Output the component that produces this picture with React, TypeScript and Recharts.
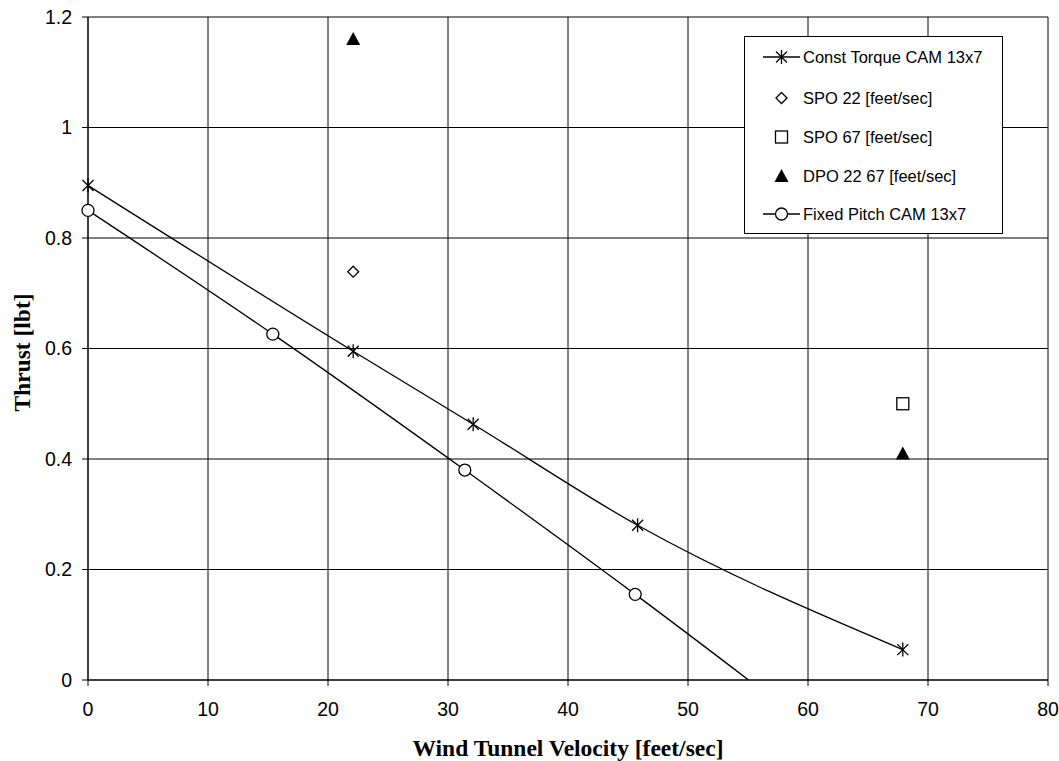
import React from "react";
import {
    ComposedChart,
    Line,
    Scatter,
    XAxis,
    YAxis,
    CartesianGrid,
    Legend,
    Label,
} from "recharts";

// values
const constTorque = [
    { x: 0, y: 0.895 },
    { x: 22.1, y: 0.595 },
    { x: 32.1, y: 0.463 },
    { x: 45.8, y: 0.28 },
    { x: 67.9, y: 0.055 },
];
const fixedPitch = [
    { x: 0, y: 0.85 },
    { x: 15.4, y: 0.626 },
    { x: 31.4, y: 0.38 },
    { x: 45.6, y: 0.155 },
    { x: 67.9, y: -0.215 },
];
const spo22 = [{ x: 22.1, y: 0.739 }];
const spo67 = [{ x: 67.9, y: 0.5 }];
const dpo2267 = [
    { x: 22.1, y: 1.16 },
    { x: 67.9, y: 0.41 },
];
const xTicks = [0, 10, 20, 30, 40, 50, 60, 70, 80];
const yTicks = [0, 0.2, 0.4, 0.6, 0.8, 1, 1.2];

const legendItems = [
    { name: "Const Torque CAM 13x7", kind: "star", line: true },
    { name: "SPO 22 [feet/sec]", kind: "diamond", line: false },
    { name: "SPO 67 [feet/sec]", kind: "square", line: false },
    { name: "DPO 22 67 [feet/sec]", kind: "triangle", line: false },
    { name: "Fixed Pitch CAM 13x7", kind: "circle", line: true },
];

const sans = "'Liberation Sans', Arial, sans-serif";
const serif = "'Liberation Serif', 'Times New Roman', serif";

function Marker({ kind, cx, cy }: { kind: string; cx: number; cy: number }) {
    if (cx == null || cy == null || isNaN(cx) || isNaN(cy)) return null;
    const s = "#000";
    switch (kind) {
        case "star":
            return (
                <g stroke={s} strokeWidth={1.3} fill="none">
                    <line x1={cx - 5.5} y1={cy - 5.5} x2={cx + 5.5} y2={cy + 5.5} />
                    <line x1={cx - 5.5} y1={cy + 5.5} x2={cx + 5.5} y2={cy - 5.5} />
                    <line x1={cx} y1={cy - 7} x2={cx} y2={cy + 7} />
                </g>
            );
        case "circle":
            return <circle cx={cx} cy={cy} r={6} fill="#fff" stroke={s} strokeWidth={1.3} />;
        case "diamond":
            return (
                <polygon
                    points={`${cx},${cy - 5.5} ${cx + 5.5},${cy} ${cx},${cy + 5.5} ${cx - 5.5},${cy}`}
                    fill="#fff"
                    stroke={s}
                    strokeWidth={1.3}
                />
            );
        case "square":
            return <rect x={cx - 6} y={cy - 6} width={12} height={12} fill="#fff" stroke={s} strokeWidth={1.3} />;
        case "triangle":
            return <polygon points={`${cx},${cy - 7} ${cx + 7},${cy + 6} ${cx - 7},${cy + 6}`} fill={s} />;
        default:
            return null;
    }
}

function LegendBox() {
    return (
        <div
            style={{
                width: 257,
                height: 196,
                border: "1px solid #000",
                background: "#fff",
                boxSizing: "content-box",
                position: "relative",
            }}
        >
            {legendItems.map((item, i) => {
                const top = [20, 61, 100, 139, 177][i];
                return (
                    <div key={item.name} style={{ position: "absolute", left: 0, top: top - 12, height: 24, display: "flex", alignItems: "center" }}>
                        <svg width={58} height={24} style={{ display: "block" }}>
                            {item.line && <line x1={18} y1={12} x2={55} y2={12} stroke="#000" strokeWidth={1.3} />}
                            <Marker kind={item.kind} cx={36.5} cy={12} />
                        </svg>
                        <span style={{ fontFamily: sans, fontSize: 16.5, color: "#000", whiteSpace: "nowrap" }}>{item.name}</span>
                    </div>
                );
            })}
        </div>
    );
}

export default function App() {
    return (
        <div style={{ position: "absolute", left: 0, top: 0, background: "#fff" }}>
            <ComposedChart width={1059} height={761} margin={{ top: 17, right: 11, bottom: 0, left: 0 }}>
                <CartesianGrid stroke="#000" strokeWidth={1} horizontalValues={yTicks} verticalValues={xTicks} />
                <XAxis
                    dataKey="x"
                    type="number"
                    domain={[0, 80]}
                    ticks={xTicks}
                    height={81}
                    stroke="#000"
                    tickSize={6}
                    tickMargin={16}
                    tick={{ fill: "#000", fontSize: 19.5, fontFamily: sans }}
                >
                    <Label
                        content={({ viewBox }: any) => (
                            <text
                                x={viewBox.x + viewBox.width / 2}
                                y={viewBox.y + 76}
                                textAnchor="middle"
                                fontFamily={serif}
                                fontWeight="bold"
                                fontSize={23.5}
                                fill="#000"
                            >
                                Wind Tunnel Velocity [feet/sec]
                            </text>
                        )}
                    />
                </XAxis>
                <YAxis
                    dataKey="y"
                    type="number"
                    domain={[0, 1.2]}
                    ticks={yTicks}
                    allowDataOverflow
                    width={88}
                    stroke="#000"
                    tickSize={6}
                    tickMargin={10}
                    tick={{ fill: "#000", fontSize: 19.5, fontFamily: sans }}
                >
                    <Label
                        content={({ viewBox }: any) => {
                            const cx = 30;
                            const cy = viewBox.y + viewBox.height / 2 + 4;
                            return (
                                <text
                                    x={cx}
                                    y={cy}
                                    transform={`rotate(-90 ${cx} ${cy})`}
                                    textAnchor="middle"
                                    fontFamily={serif}
                                    fontWeight="bold"
                                    fontSize={23.5}
                                    fill="#000"
                                >
                                    Thrust [lbt]
                                </text>
                            );
                        }}
                    />
                </YAxis>
                <Legend
                    layout="horizontal"
                    verticalAlign="middle"
                    align="center"
                    content={() => <LegendBox />}
                    wrapperStyle={{ left: 744, top: 36, width: 259, bottom: "auto" }}
                />
                <Line
                    data={constTorque}
                    dataKey="y"
                    name="Const Torque CAM 13x7"
                    type="monotone"
                    stroke="#000"
                    strokeWidth={1.3}
                    dot={(p: any) => <Marker key={p.index} kind="star" cx={p.cx} cy={p.cy} />}
                    isAnimationActive={false}
                />
                <Line
                    data={fixedPitch}
                    dataKey="y"
                    name="Fixed Pitch CAM 13x7"
                    type="monotone"
                    stroke="#000"
                    strokeWidth={1.3}
                    dot={(p: any) => <Marker key={p.index} kind="circle" cx={p.cx} cy={p.cy} />}
                    isAnimationActive={false}
                />
                <Scatter
                    data={spo22}
                    dataKey="y"
                    name="SPO 22 [feet/sec]"
                    shape={(p: any) => <Marker kind="diamond" cx={p.cx} cy={p.cy} />}
                    isAnimationActive={false}
                />
                <Scatter
                    data={spo67}
                    dataKey="y"
                    name="SPO 67 [feet/sec]"
                    shape={(p: any) => <Marker kind="square" cx={p.cx} cy={p.cy} />}
                    isAnimationActive={false}
                />
                <Scatter
                    data={dpo2267}
                    dataKey="y"
                    name="DPO 22 67 [feet/sec]"
                    shape={(p: any) => <Marker kind="triangle" cx={p.cx} cy={p.cy} />}
                    isAnimationActive={false}
                />
            </ComposedChart>
        </div>
    );
}
